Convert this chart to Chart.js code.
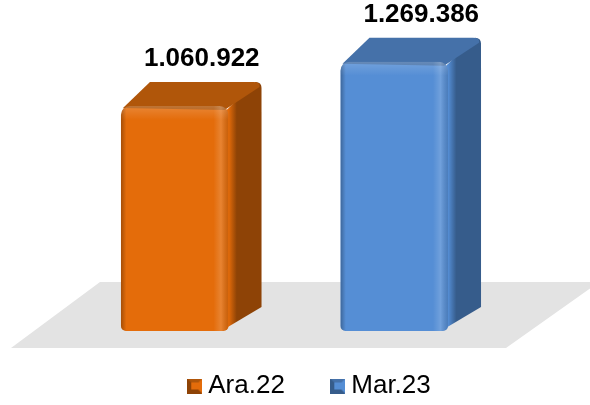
<!DOCTYPE html>
<html>
<head>
<meta charset="utf-8">
<script src="https://cdn.jsdelivr.net/npm/chart.js@4"></script>
<style>
  html, body { margin: 0; padding: 0; background: #fff; }
  #wrap { width: 590px; height: 405px; }
</style>
</head>
<body>
<div id="wrap"><canvas id="chart"></canvas></div>
<script>
// data
var categories = ["Ara.22", "Mar.23"];
var values = [1060922, 1269386];
var frontColors = ["#E46C0A", "#558ED5"];
var topColors = ["#B0560A", "#4571A9"];
var sideColors = ["#8E4306", "#365C8B"];

var depthX = 33;   // 3d depth of the boxes
var depthY = 24;

function dotted(v) {
  return String(v).replace(/\B(?=(\d{3})+(?!\d))/g, ".");
}

// little bevelled square for the legend
function legendIcon(i) {
  var c = document.createElement("canvas");
  c.width = 15; c.height = 15;
  var g = c.getContext("2d");
  g.fillStyle = sideColors[i];
  g.fillRect(0, 0, 15, 15);
  g.fillStyle = topColors[i];
  g.beginPath(); g.moveTo(0, 0); g.lineTo(15, 0); g.lineTo(7.5, 7.5); g.fill();
  g.fillStyle = frontColors[i];
  g.beginPath(); g.moveTo(15, 0); g.lineTo(15, 15); g.lineTo(7.5, 7.5); g.fill();
  g.fillRect(4, 4, 7, 7);
  return c;
}

var datasets = categories.map(function (name, i) {
  return {
    label: name,
    data: categories.map(function (c, j) { return j === i ? values[i] : null; }),
    backgroundColor: frontColors[i],
    borderRadius: { topLeft: 9, topRight: 9, bottomLeft: 5, bottomRight: 5 },
    borderSkipped: false
  };
});

var box3d = {
  id: "box3d",
  afterLayout: function (chart) {
    // legend sits a bit right of the plot centre and a little lower
    chart.legend.left += 28;
    chart.legend.right += 28;
    chart.legend.top += 4;
    chart.legend.bottom += 4;
  },
  beforeDatasetsDraw: function (chart) {
    var ctx = chart.ctx, a = chart.chartArea;
    ctx.save();
    ctx.fillStyle = "#E3E3E3";
    ctx.beginPath();
    ctx.moveTo(a.left + 35, a.bottom - 49);
    ctx.lineTo(a.right + 95, a.bottom - 49);
    ctx.lineTo(a.right + 2, a.bottom + 17);
    ctx.lineTo(a.left - 54, a.bottom + 17);
    ctx.closePath();
    ctx.fill();
    ctx.restore();
  },
  afterDatasetsDraw: function (chart) {
    var ctx = chart.ctx;
    chart.data.datasets.forEach(function (ds, i) {
      var bar = chart.getDatasetMeta(i).data[i];
      if (!bar) return;
      var l = bar.x - bar.width / 2, r = bar.x + bar.width / 2;
      var t = bar.y, b = bar.base;
      ctx.save();
      // side face
      var sg = ctx.createLinearGradient(r, 0, r + depthX, 0);
      sg.addColorStop(0, frontColors[i]);
      sg.addColorStop(0.25, sideColors[i]);
      sg.addColorStop(1, sideColors[i]);
      ctx.fillStyle = sg;
      ctx.beginPath();
      ctx.moveTo(r - 4, t + 6);
      ctx.lineTo(r + depthX - 6, t - depthY);
      ctx.quadraticCurveTo(r + depthX, t - depthY, r + depthX, t - depthY + 6);
      ctx.lineTo(r + depthX, b - depthY);
      ctx.lineTo(r - 4, b - 2);
      ctx.closePath();
      ctx.fill();
      // top face
      ctx.fillStyle = topColors[i];
      ctx.beginPath();
      ctx.moveTo(l + 2, t + 2);
      ctx.lineTo(l + depthX - 4, t - depthY);
      ctx.lineTo(r + depthX - 8, t - depthY);
      ctx.quadraticCurveTo(r + depthX - 1, t - depthY, r + depthX - 2, t - depthY + 5);
      ctx.lineTo(r - 4, t + 4);
      ctx.closePath();
      ctx.fill();
      // front shading: dark left edge, bright rounded right edge
      ctx.beginPath();
      ctx.roundRect(l, t, r - l, b - t, [9, 9, 5, 5]);
      ctx.clip();
      var fg = ctx.createLinearGradient(l, 0, r, 0);
      fg.addColorStop(0, "rgba(0,0,0,0.28)");
      fg.addColorStop(0.05, "rgba(0,0,0,0)");
      fg.addColorStop(0.86, "rgba(255,255,255,0)");
      fg.addColorStop(0.93, "rgba(255,255,255,0.16)");
      fg.addColorStop(1, "rgba(0,0,0,0.12)");
      ctx.fillStyle = fg;
      ctx.fillRect(l, t, r - l, b - t);
      var tg = ctx.createLinearGradient(0, t, 0, t + 14);
      tg.addColorStop(0, "rgba(255,255,255,0.18)");
      tg.addColorStop(1, "rgba(255,255,255,0)");
      ctx.fillStyle = tg;
      ctx.fillRect(l, t, r - l, 14);
      ctx.restore();
      // value label
      ctx.save();
      ctx.fillStyle = "#000";
      ctx.font = "bold 26px 'Liberation Sans', Arial, sans-serif";
      ctx.textAlign = "center";
      ctx.textBaseline = "middle";
      ctx.fillText(dotted(values[i]), bar.x + 27, t - 47);
      ctx.restore();
    });
  }
};

Chart.defaults.font.family = "'Liberation Sans', Arial, sans-serif";

new Chart(document.getElementById("chart"), {
  type: "bar",
  data: { labels: categories, datasets: datasets },
  options: {
    responsive: true,
    maintainAspectRatio: false,
    animation: false,
    layout: { padding: { left: 65, right: 86, top: 34, bottom: 0 } },
    datasets: { bar: { grouped: false, categoryPercentage: 1, barPercentage: 0.49 } },
    scales: {
      x: { display: false },
      y: { display: false, min: 0, max: 1400000 }
    },
    plugins: {
      tooltip: { enabled: false },
      legend: {
        position: "bottom",
        labels: {
          color: "#000",
          font: { size: 26 },
          boxWidth: 15,
          boxHeight: 15,
          padding: 38,
          usePointStyle: true,
          pointStyleWidth: 1,
          generateLabels: function (chart) {
            var items = Chart.defaults.plugins.legend.labels.generateLabels(chart);
            items.forEach(function (it, i) {
              it.pointStyle = legendIcon(i);
              if (i < items.length - 1) it.text += "  ";
            });
            return items;
          }
        }
      }
    }
  },
  plugins: [box3d]
});
</script>
</body>
</html>
